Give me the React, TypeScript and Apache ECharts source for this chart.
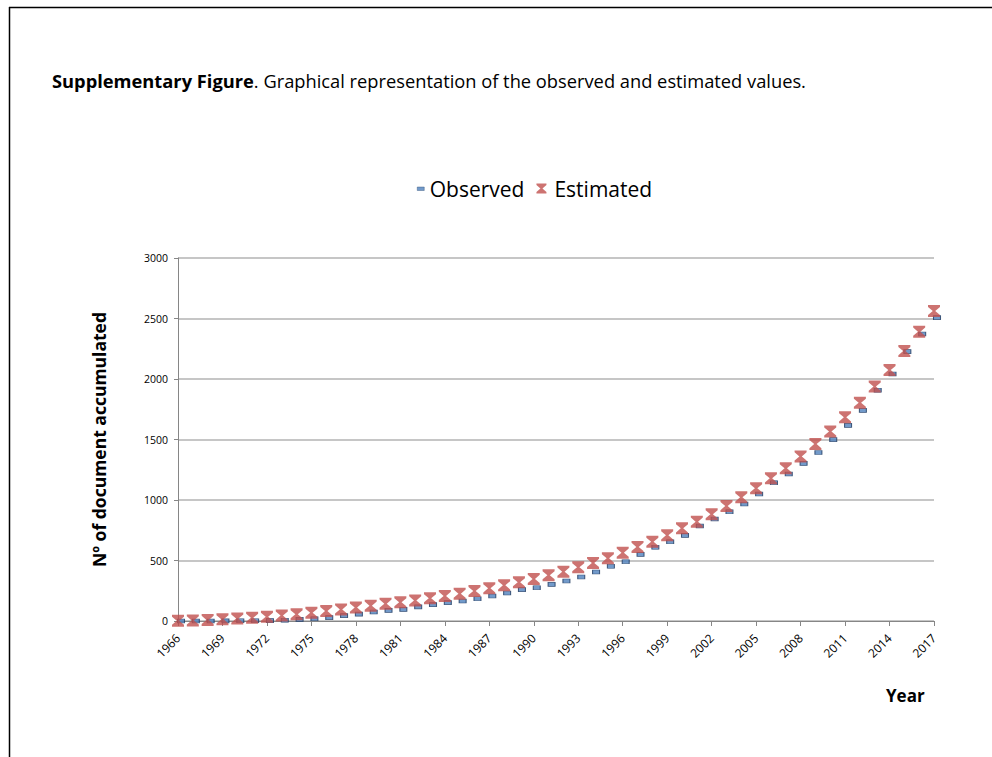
import React, { useEffect, useRef } from "react";
import * as echarts from "echarts";

const years = [
  "1966", "1967", "1968", "1969", "1970", "1971", "1972", "1973", "1974", "1975",
  "1976", "1977", "1978", "1979", "1980", "1981", "1982", "1983", "1984", "1985",
  "1986", "1987", "1988", "1989", "1990", "1991", "1992", "1993", "1994", "1995",
  "1996", "1997", "1998", "1999", "2000", "2001", "2002", "2003", "2004", "2005",
  "2006", "2007", "2008", "2009", "2010", "2011", "2012", "2013", "2014", "2015",
  "2016", "2017",
];

const observed = [
  0, 0, 0, 1, 2, 2, 3, 6, 13, 19,
  28, 44, 57, 74, 88, 96, 117, 135, 152, 165,
  184, 207, 231, 259, 275, 303, 331, 364, 405, 452,
  490, 551, 609, 655, 708, 785, 843, 903, 967, 1050,
  1143, 1215, 1303, 1392, 1499, 1617, 1741, 1907, 2041, 2226,
  2372, 2507,
];

const estimated = [
  2, 5, 9, 14, 20, 27, 35, 45, 56, 68,
  82, 96, 111, 127, 143, 155, 170, 188, 207, 226,
  248, 270, 295, 320, 348, 378, 408, 444, 480, 518,
  565, 612, 655, 708, 766, 821, 882, 950, 1022, 1097,
  1179, 1262, 1360, 1462, 1566, 1683, 1804, 1937, 2074, 2231,
  2391, 2562,
];

const yMin = 0;
const yMax = 3000;
const yStep = 500;

const FONT = "'Open Sans', 'Noto Sans', sans-serif";
const HOURGLASS = "path://M0,0 L10,0 L10,1.6 L6,5 L10,8.4 L10,10 L0,10 L0,8.4 L4,5 L0,1.6 Z";
const OBS_ICON = "path://M0,0 M1,3.5 L8,3.5 L8,7 L1,7 Z M9,10";
const EST_ICON = "path://M0,0 L10,0 L10,1.6 L6,5 L10,8.4 L10,10 L0,10 L0,8.4 L4,5 L0,1.6 Z";

export default function App() {
  const ref = useRef<HTMLDivElement>(null);
  useEffect(() => {
    if (!ref.current) return;
    const chart = echarts.init(ref.current, null, { renderer: "svg" });
    chart.setOption({
      animation: false,
      backgroundColor: "#ffffff",
      textStyle: { fontFamily: FONT },
      title: {
        left: 52,
        top: 71,
        padding: 0,
        text: "{b|Supplementary Figure}. Graphical representation of the observed and estimated values.",
        textStyle: {
          fontFamily: FONT,
          fontSize: 18.3,
          fontWeight: "normal",
          color: "#000000",
          rich: {
            b: { fontFamily: FONT, fontSize: 18.3, fontWeight: "bold", color: "#000000" },
          },
        },
      },
      legend: {
        left: 411,
        top: 173,
        itemGap: 12,
        itemWidth: 10,
        itemHeight: 10,
        textStyle: { fontFamily: FONT, fontSize: 21, color: "#000000", padding: [0, 0, 0, -1] },
        data: [
          {
            name: "Observed",
            icon: OBS_ICON,
            itemStyle: { color: "#4f81bd", borderColor: "#2c4d75", borderWidth: 0.5 },
          },
          {
            name: "Estimated",
            icon: EST_ICON,
            itemStyle: { color: "#c0504d", borderWidth: 0 },
            textStyle: { fontFamily: FONT, fontSize: 21, color: "#000000", padding: [0, 0, 0, 3] },
          },
        ],
      },
      grid: { left: 178, right: 58, top: 258, bottom: 136 },
      xAxis: {
        type: "category",
        data: years,
        boundaryGap: false,
        axisLine: { lineStyle: { color: "#868686", width: 1 } },
        axisTick: { show: true, interval: 2, length: 5, lineStyle: { color: "#868686" } },
        axisLabel: {
          interval: 2,
          rotate: 45,
          fontSize: 12,
          color: "#000000",
          fontFamily: FONT,
          margin: 15,
        },
        splitLine: { show: false },
      },
      yAxis: {
        type: "value",
        min: yMin,
        max: yMax,
        interval: yStep,
        name: "Nº of document accumulated",
        nameLocation: "middle",
        nameRotate: 90,
        nameGap: 70,
        nameTextStyle: { fontFamily: FONT, fontSize: 17.5, fontWeight: "bold", color: "#000000" },
        axisLine: { show: true, lineStyle: { color: "#868686", width: 1 } },
        axisTick: { show: true, length: 4, lineStyle: { color: "#868686" } },
        axisLabel: {
          fontSize: 10.5,
          color: "#000000",
          fontFamily: FONT,
          margin: 10,
          formatter: (v: number) => String(v),
        },
        splitLine: { show: true, lineStyle: { color: "#b3b3b3", width: 1.5 } },
      },
      series: [
        {
          name: "Observed",
          type: "scatter",
          data: observed,
          symbol: "rect",
          symbolSize: [7, 4],
          symbolOffset: [3, 0],
          itemStyle: { color: "#4f81bd", borderColor: "#1f3a60", borderWidth: 0.8 },
          z: 2,
        },
        {
          name: "Estimated",
          type: "scatter",
          data: estimated,
          symbol: HOURGLASS,
          symbolSize: [12, 12],
          itemStyle: { color: "#c0504d", borderWidth: 0 },
          z: 3,
        },
      ],
      graphic: [
        {
          type: "line",
          shape: { x1: 9, y1: 7.5, x2: 992, y2: 7.5 },
          style: { stroke: "#000000", lineWidth: 1.5 },
        },
        {
          type: "line",
          shape: { x1: 9.5, y1: 7, x2: 9.5, y2: 757 },
          style: { stroke: "#000000", lineWidth: 1.5 },
        },
        {
          type: "text",
          left: 886,
          top: 687,
          style: {
            text: "Year",
            fontFamily: FONT,
            fontSize: 17,
            fontWeight: "bold",
            fill: "#000000",
          },
        },
      ],
    });
    return () => chart.dispose();
  }, []);
  return (
    <div
      ref={ref}
      style={{ position: "fixed", left: 0, top: 0, width: 992, height: 757 }}
    />
  );
}
